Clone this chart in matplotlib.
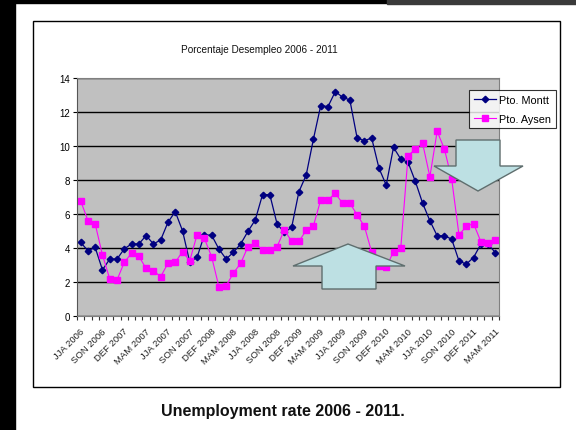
import matplotlib
matplotlib.use("Agg")
import matplotlib.pyplot as plt
from matplotlib.patches import Polygon, Rectangle
import numpy as np

plt.rcParams['font.family'] = ['Liberation Sans', 'DejaVu Sans']

### unemployment, rolling quarters JJA 2006 - MAM 2011

montt = [4.33, 3.84, 4.03, 2.71, 3.35, 3.35, 3.95, 4.24, 4.24, 4.73,
         4.24, 4.47, 5.51, 6.14, 5.02, 3.16, 3.45, 4.76, 4.76, 3.94,
         3.35, 3.75, 4.24, 4.98, 5.65, 7.14, 7.14, 5.41, 4.92, 5.21,
         7.31, 8.29, 10.42, 12.38, 12.32, 13.2, 12.87, 12.71, 10.47, 10.31,
         10.47, 8.70, 7.70, 9.92, 9.23, 9.04, 7.92, 6.64, 5.60, 4.72,
         4.72, 4.52, 3.24, 3.05, 3.44, 4.22, 4.22, 3.73]
aysen = [6.78, 5.61, 5.41, 3.59, 2.18, 2.12, 3.16, 3.69, 3.51, 2.80,
         2.67, 2.31, 3.10, 3.16, 3.78, 3.25, 4.78, 4.57, 3.49, 1.73,
         1.78, 2.53, 3.10, 4.08, 4.27, 3.88, 3.88, 4.08, 5.06, 4.39,
         4.39, 5.04, 5.31, 6.84, 6.84, 7.21, 6.64, 6.64, 5.95, 5.28,
         3.76, 2.95, 2.87, 3.79, 4.00, 9.43, 9.82, 10.16, 8.19, 10.86,
         9.82, 8.05, 4.77, 5.27, 5.44, 4.38, 4.28, 4.48]
labels = ['JJA 2006', 'SON 2006', 'DEF 2007', 'MAM 2007', 'JJA 2007',
          'SON 2007', 'DEF 2008', 'MAM 2008', 'JJA 2008', 'SON 2008',
          'DEF 2009', 'MAM 2009', 'JJA 2009', 'SON 2009', 'DEF 2010',
          'MAM 2010', 'JJA 2010', 'SON 2010', 'DEF 2011', 'MAM 2011']
label_step = 3

W, H = 576, 431
fig = plt.figure(figsize=(W / 100, H / 100), dpi=100)
fig.patch.set_facecolor('white')

def px(x, y):
    return (x / W, 1 - y / H)

# slide background bits and the chart frame
fig.add_artist(Rectangle((0, 0), 15 / W, 1, transform=fig.transFigure, color='black', zorder=0))
fig.add_artist(Rectangle(px(0, 4), 1, 4 / H, transform=fig.transFigure, color='black', zorder=0))
fig.add_artist(Rectangle(px(387, 5), 1, 5 / H, transform=fig.transFigure, color='#3a3a3a', zorder=0))
fig.add_artist(Rectangle(px(33, 388), (560 - 33) / W, (388 - 22) / H, transform=fig.transFigure,
                         facecolor='white', edgecolor='black', lw=1.0, zorder=0.5))

ax = fig.add_axes([77 / W, 1 - 317 / H, 422 / W, 238 / H])
ax.set_zorder(1)
ax.set_facecolor('#c0c0c0')

x = np.arange(len(montt))
ax.plot(x, montt, color='#000080', lw=0.9, marker='D', markersize=3.3, label='Pto. Montt')
ax.plot(x, aysen, color='#ff00ff', lw=0.8, marker='s', markersize=4.2, label='Pto. Aysen')

ax.set_xlim(-0.5, len(montt) - 0.5)
ax.set_ylim(0, 14)
ax.set_yticks(np.arange(0, 15, 2))
ax.yaxis.grid(True, color='black', lw=1.0)
ax.set_axisbelow(True)
ax.tick_params(axis='y', labelsize=7, length=3, width=0.8, pad=2)

ax.set_xticks(np.arange(-0.5, len(montt)), minor=False)
ax.set_xticklabels([])
ax.tick_params(axis='x', length=3, width=0.8, color='#333333')
for k, lab in enumerate(labels):
    ax.text(k * label_step - 0.1, -0.6, lab, rotation=45, ha='right', va='top',
            rotation_mode='anchor', fontsize=6.8, color='#222222')

for side in ['top', 'right']:
    ax.spines[side].set_color('#808080')
ax.spines['left'].set_color('#555555')
ax.spines['bottom'].set_color('#808080')

fig.text(259 / W, 1 - 50 / H, 'Porcentaje Desempleo 2006 - 2011', ha='center', va='center',
         fontsize=7.2, color='#111111')

leg = ax.legend(loc='upper left', bbox_to_anchor=px(469, 91), bbox_transform=fig.transFigure,
                fontsize=7.8, frameon=True, fancybox=False, borderaxespad=0,
                handlelength=2.0, borderpad=0.45, labelspacing=0.8, handletextpad=0.35)
leg.get_frame().set_edgecolor('black')
leg.get_frame().set_linewidth(0.8)
leg.set_zorder(5)

# block arrows
arrow_face = '#bde0e3'
arrow_edge = '#5f6e6e'
up_arrow = [(348, 245), (405, 267), (376, 267), (376, 290), (322, 290), (322, 267), (293, 267)]
down_arrow = [(456, 141), (500, 141), (500, 167), (523, 167), (478, 192), (434, 167), (456, 167)]
for shape in (up_arrow, down_arrow):
    fig.add_artist(Polygon([px(a, b) for a, b in shape], closed=True, transform=fig.transFigure,
                           facecolor=arrow_face, edgecolor=arrow_edge, lw=1.0, zorder=3))

fig.text(283 / W, 1 - 412 / H, 'Unemployment rate 2006 - 2011.', ha='center', va='center',
         fontsize=11.5, fontweight='bold', color='#111111')

fig.savefig('out.png', dpi=100)
